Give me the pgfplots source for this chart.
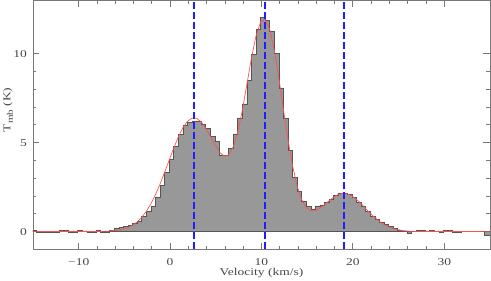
\documentclass[border=0pt]{standalone}
\usepackage{fontspec}
\setmainfont{Liberation Serif}[FakeStretch=1.3]
\usepackage{pgfplots}
\pgfplotsset{compat=1.18}
\definecolor{histfill}{RGB}{152,152,152}
\definecolor{histline}{RGB}{85,85,85}
\definecolor{fitred}{RGB}{255,80,80}
\definecolor{vblue}{RGB}{30,30,255}
\definecolor{axgray}{RGB}{120,120,120}
\definecolor{txtgray}{RGB}{70,70,70}
\begin{document}
\begin{tikzpicture}
\begin{axis}[
  scale only axis, width=457pt, height=249pt,
  anchor=south west, at={(0,0)},
  xmin=-15, xmax=35, ymin=-1, ymax=13,
  xtick={-10,0,10,20,30}, xticklabels={−10,0,10,20,30},
  ytick={0,5,10}, yticklabels={0,5,10},
  minor x tick num=4, minor y tick num=4,
  tick align=inside, tick pos=both,
  major tick length=6.5pt, minor tick length=3.5pt,
  axis line style={axgray, line width=0.8pt},
  every tick/.style={axgray, line width=0.8pt},
  tick label style={font=\fontsize{10.4}{12}\selectfont, text=txtgray},
  xticklabel style={yshift=-6pt},
  yticklabel style={xshift=-2.5pt},
  label style={font=\fontsize{10.4}{12}\selectfont, text=txtgray},
  xlabel={Velocity (km/s)},
  ylabel={T{\fontsize{8.5}{10}\selectfont\raisebox{-2.5pt}{mb}} (K)},
  xlabel style={at={(axis description cs:0.5,0)}, anchor=center, yshift=-24pt},
  ylabel style={at={(axis description cs:-0.0547,0.56)}, anchor=center},
]
\addplot[const plot mark left, fill=histfill, draw=histline, line width=0.6pt] table {
x y
-15.1 0.08
-14.6 -0.04
-14.1 -0.05
-13.6 -0.03
-13.1 -0.05
-12.6 -0.04
-12.1 0.08
-11.6 0.07
-11.1 -0.03
-10.6 -0.04
-10.1 0.09
-9.6 0.04
-9.1 -0.05
-8.6 -0.04
-8.1 0.06
-7.6 -0.05
-7.1 -0.03
-6.6 0.08
-6.1 0.18
-5.6 0.22
-5.1 0.28
-4.6 0.36
-4.1 0.45
-3.6 0.60
-3.1 0.85
-2.6 1.12
-2.1 1.45
-1.6 1.95
-1.1 2.62
-0.6 3.35
-0.1 4.05
0.4 4.80
0.9 5.45
1.4 5.95
1.9 6.15
2.4 6.22
2.9 6.22
3.4 6.05
3.9 5.80
4.4 5.35
4.9 5.07
5.4 4.27
5.9 4.27
6.4 4.68
6.9 5.49
7.4 6.39
7.9 7.18
8.4 8.50
8.9 9.95
9.4 11.35
9.9 12.06
10.4 11.87
10.9 11.27
11.4 10.0
11.9 8.08
12.4 6.37
12.9 4.55
13.4 3.04
13.9 2.24
14.4 1.73
14.9 1.40
15.4 1.28
15.9 1.45
16.4 1.50
16.9 1.62
17.4 1.80
17.9 2.05
18.4 2.18
18.9 2.18
19.4 2.08
19.9 1.92
20.4 1.62
20.9 1.40
21.4 1.12
21.9 0.85
22.4 0.68
22.9 0.55
23.4 0.40
23.9 0.30
24.4 0.18
24.9 0.10
25.4 0.04
25.9 -0.08
26.4 0.02
26.9 0.05
27.4 0.06
27.9 0.04
28.4 0.06
28.9 0.03
29.4 -0.04
29.9 0.05
30.4 0.05
30.9 -0.06
31.4 -0.03
31.9 0.00
32.4 0.01
32.9 0.02
33.4 0.03
33.9 0.04
34.4 -0.18
34.9 -0.18
35.4 -0.18
} \closedcycle;
\addplot[fitred, line width=0.7pt] coordinates {
(-15,0) (-7.6,0.01) (-7.1,0.016) (-6.6,0.029) (-6.1,0.051) (-5.6,0.088) (-5.1,0.146) (-4.6,0.235) (-4.1,0.365) (-3.6,0.551) (-3.1,0.806) (-2.6,1.141) (-2.1,1.564) (-1.6,2.078) (-1.1,2.673) (-0.6,3.331) (-0.1,4.02) (0.4,4.70) (0.9,5.32) (1.4,5.84) (1.9,6.20) (2.4,6.38) (2.9,6.37) (3.4,6.17) (3.9,5.82) (4.4,5.36) (4.9,4.88) (5.4,4.47) (5.9,4.25) (6.4,4.31) (6.9,4.75) (7.4,5.59) (7.9,6.81) (8.4,8.27) (8.9,9.75) (9.4,11.00) (9.9,11.78) (10.4,11.92) (10.9,11.37) (11.4,10.20) (11.9,8.62) (12.4,6.86) (12.9,5.16) (13.4,3.69) (13.9,2.56) (14.4,1.79) (14.9,1.34) (15.4,1.16) (15.9,1.17) (16.4,1.31) (16.9,1.52) (17.4,1.74) (17.9,1.94) (18.4,2.09) (18.9,2.15) (19.4,2.12) (19.9,2.00) (20.4,1.81) (20.9,1.57) (21.4,1.30) (21.9,1.04) (22.4,0.79) (22.9,0.57) (23.4,0.40) (23.9,0.27) (24.4,0.17) (24.9,0.105) (25.4,0.061) (25.9,0.034) (26.4,0.019) (26.9,0.01) (27.4,0.005) (35,0)
};
\addplot[vblue, line width=1.7pt, dash pattern=on 7pt off 3pt] coordinates {(2.6,-1) (2.6,13)};
\addplot[vblue, line width=1.7pt, dash pattern=on 7pt off 3pt] coordinates {(10.4,-1) (10.4,13)};
\addplot[vblue, line width=1.7pt, dash pattern=on 7pt off 3pt] coordinates {(19.0,-1) (19.0,13)};
\end{axis}
\pgfresetboundingbox
\useasboundingbox (-33pt,-31pt) rectangle (458pt,249.4pt);
\end{tikzpicture}
\end{document}
